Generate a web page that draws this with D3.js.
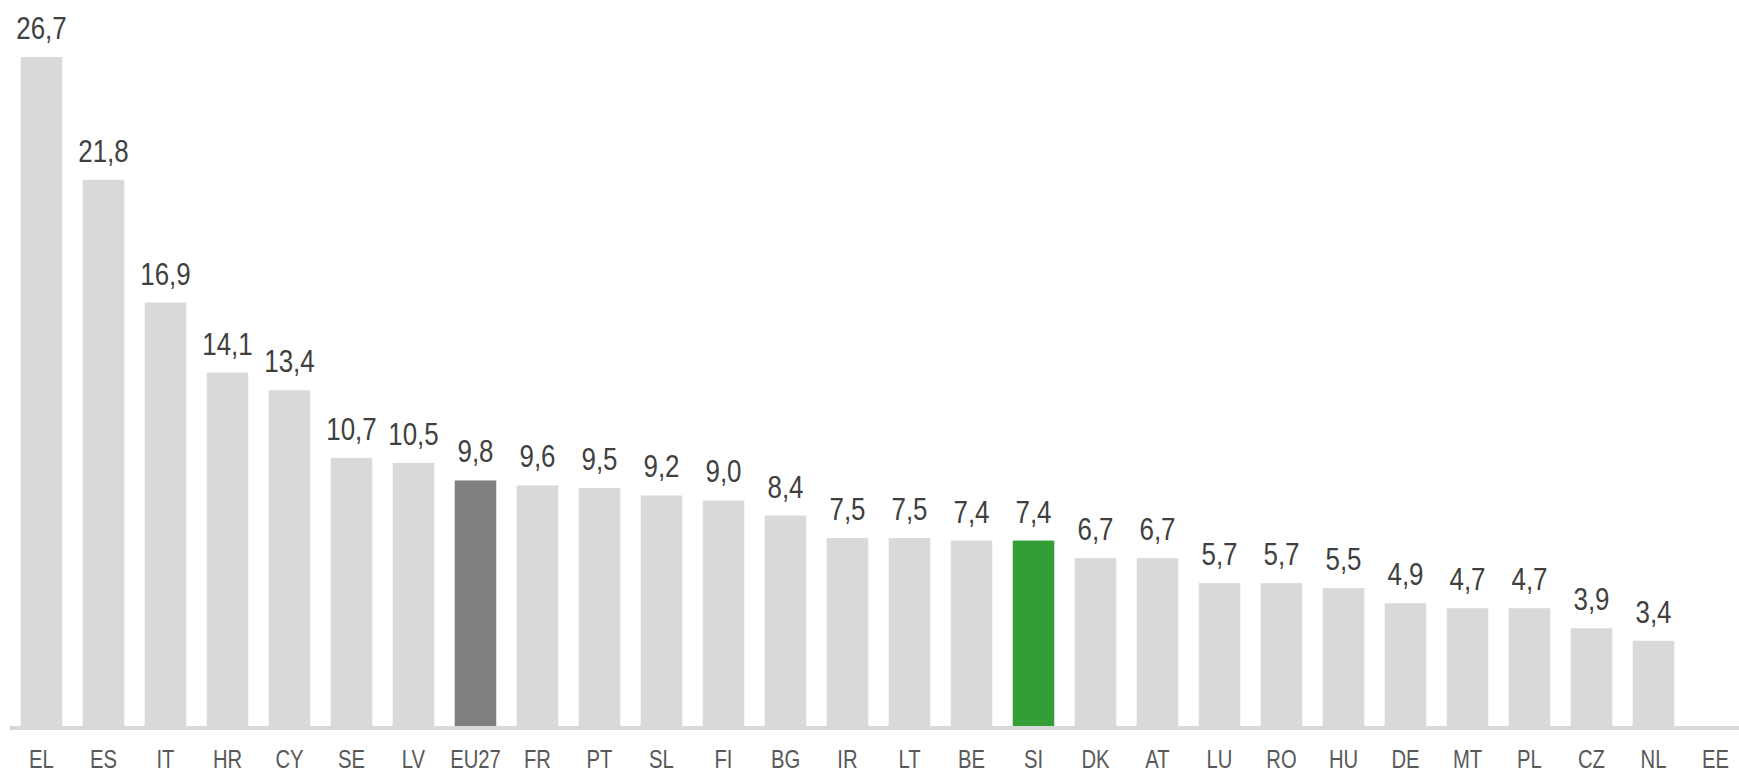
<!DOCTYPE html>
<html>
<head>
<meta charset="utf-8">
<script src="https://cdn.jsdelivr.net/npm/d3@7"></script>
<style>
    body { margin: 0; background: #fff; }
    svg { display: block; }
    text { font-family: "Liberation Sans", Arial, sans-serif; }
</style>
</head>
<body>
<svg id="chart"></svg>
<script>
const countries = ["EL", "ES", "IT", "HR", "CY", "SE", "LV", "EU27", "FR", "PT", "SL", "FI", "BG", "IR",
    "LT", "BE", "SI", "DK", "AT", "LU", "RO", "HU", "DE", "MT", "PL", "CZ", "NL", "EE"];
const values = [26.7, 21.8, 16.9, 14.1, 13.4, 10.7, 10.5, 9.8, 9.6, 9.5, 9.2, 9.0, 8.4, 7.5,
    7.5, 7.4, 7.4, 6.7, 6.7, 5.7, 5.7, 5.5, 4.9, 4.7, 4.7, 3.9, 3.4, null];
const highlight = { "EU27": "#7f7f7f", "SI": "#339e35" };

const width = 1739;
const height = 773;
const baseY = 726;
const narrow = 0.81; // no narrow font installed, squeeze Liberation Sans instead

const svg = d3.select("#chart")
    .attr("width", width)
    .attr("height", height);

const x = d3.scaleBand()
    .domain(countries)
    .range([10.5, 10.5 + countries.length * 62])
    .paddingInner(0.33)
    .paddingOuter(0.165);

const y = d3.scaleLinear()
    .domain([0, 26.7])
    .range([baseY, 57]);

const fmt = d3.formatLocale({ decimal: ",", thousands: ".", grouping: [3], currency: ["", ""] }).format(".1f");

const data = countries.map((c, i) => ({ c: c, v: values[i] }));
const withValue = data.filter(d => d.v != null);
const cx = d => x(d.c) + x.bandwidth() / 2;

// bars
svg.selectAll("rect.bar")
    .data(withValue)
    .enter()
    .append("rect")
    .attr("class", "bar")
    .attr("x", d => x(d.c))
    .attr("y", d => y(d.v))
    .attr("width", x.bandwidth())
    .attr("height", d => baseY - y(d.v))
    .attr("fill", d => highlight[d.c] || "#d9d9d9");

// baseline
svg.append("rect")
    .attr("x", 10)
    .attr("y", baseY)
    .attr("width", width - 10)
    .attr("height", 4)
    .attr("fill", "#d9d9d9");

// value labels
svg.selectAll("text.val")
    .data(withValue)
    .enter()
    .append("text")
    .attr("class", "val")
    .attr("transform", d => `translate(${cx(d)},${y(d.v) - 18}) scale(${narrow},1)`)
    .attr("text-anchor", "middle")
    .attr("font-size", 32)
    .attr("fill", "#404040")
    .text(d => fmt(d.v));

// category labels
svg.selectAll("text.cat")
    .data(data)
    .enter()
    .append("text")
    .attr("class", "cat")
    .attr("transform", d => `translate(${cx(d)},768) scale(${narrow},1)`)
    .attr("text-anchor", "middle")
    .attr("font-size", 25)
    .attr("fill", "#595959")
    .text(d => d.c);
</script>
</body>
</html>
